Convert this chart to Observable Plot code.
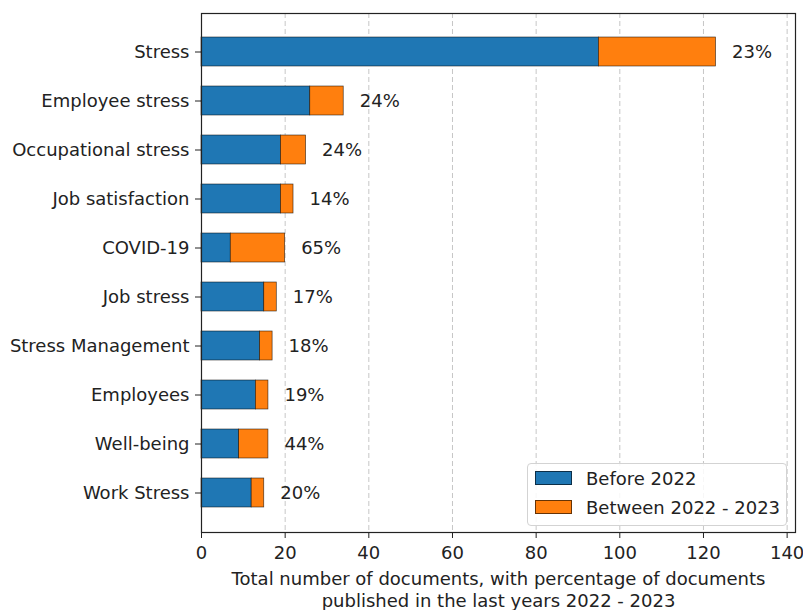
<!DOCTYPE html>
<html>
<head>
<meta charset="utf-8">
<script src="https://cdn.jsdelivr.net/npm/d3@7"></script>
<script src="https://cdn.jsdelivr.net/npm/@observablehq/plot@0.6"></script>
<style>
  body { margin: 0; background: #fff; font-family: "DejaVu Sans", sans-serif; }
  #wrap { position: relative; width: 803px; height: 610px; }
  .legend { position: absolute; left: 527px; top: 463px; width: 260px; height: 63px;
    border: 1px solid #d3d3d3; border-radius: 4px; background: rgba(255,255,255,0.85);
    box-sizing: border-box; font-size: 18px; color: #222; }
  .legend .row { position: absolute; left: 7px; height: 20px; display: flex; align-items: center; }
  .legend .sw { width: 37px; height: 14px; box-sizing: border-box; border: 0.8px solid rgba(0,0,0,0.6); margin-right: 14px; }
</style>
</head>
<body>
<div id="wrap"></div>
<script>
const terms = ["Stress", "Employee stress", "Occupational stress", "Job satisfaction", "COVID-19",
  "Job stress", "Stress Management", "Employees", "Well-being", "Work Stress"];
const before2022 = [95, 26, 19, 19, 7, 15, 14, 13, 9, 12];
const between2022_2023 = [28, 8, 6, 3, 13, 3, 3, 3, 7, 3];
const seriesNames = ["Before 2022", "Between 2022 - 2023"];
const seriesColors = ["#1f77b4", "#ff7f0e"];
const xTicks = [0, 20, 40, 60, 80, 100, 120, 140];
const xLabelLines = ["Total number of documents, with percentage of documents",
  "published in the last years 2022 - 2023"];

const rows = [];
terms.forEach((t, i) => {
  rows.push({term: t, series: seriesNames[0], value: before2022[i]});
  rows.push({term: t, series: seriesNames[1], value: between2022_2023[i]});
});
const totals = terms.map((t, i) => ({
  term: t,
  total: before2022[i] + between2022_2023[i],
  pct: Math.round(100 * between2022_2023[i] / (before2022[i] + between2022_2023[i])) + "%"
}));

const chart = Plot.plot({
  width: 803,
  height: 610,
  marginLeft: 201,
  marginRight: 8,
  marginTop: 13,
  marginBottom: 78,
  style: {fontFamily: "DejaVu Sans, sans-serif", fontSize: "18px", color: "#222", background: "#fff"},
  x: {domain: [0, 142], ticks: xTicks, tickSize: 6, tickPadding: 8, label: null},
  y: {domain: terms, paddingInner: 0.4, paddingOuter: 0.48, tickSize: 6, tickPadding: 6, label: null},
  color: {domain: seriesNames, range: seriesColors},
  marks: [
    Plot.ruleX(xTicks.slice(1), {stroke: "#b0b0b0", strokeOpacity: 0.8, strokeWidth: 0.9, strokeDasharray: "5,3"}),
    Plot.barX(rows, {x: "value", y: "term", fill: "series", stroke: "black", strokeOpacity: 0.7, strokeWidth: 0.7}),
    Plot.text(totals, {x: "total", y: "term", text: "pct", dx: 16, textAnchor: "start", fill: "#222", fontSize: 18}),
    Plot.text([xLabelLines.join("\n")], {text: d => d, frameAnchor: "bottom", dy: 38, lineAnchor: "top", lineHeight: 1.17, fontSize: 18, fill: "#222"}),
    Plot.frame({stroke: "#222", strokeWidth: 1.2})
  ]
});
const wrap = document.getElementById("wrap");
wrap.appendChild(chart);

const leg = document.createElement("div");
leg.className = "legend";
seriesNames.forEach((name, i) => {
  const row = document.createElement("div");
  row.className = "row";
  row.style.top = (4 + i * 29) + "px";
  const sw = document.createElement("div");
  sw.className = "sw";
  sw.style.background = seriesColors[i];
  const lab = document.createElement("span");
  lab.textContent = name;
  row.appendChild(sw);
  row.appendChild(lab);
  leg.appendChild(row);
});
wrap.appendChild(leg);
</script>
</body>
</html>
